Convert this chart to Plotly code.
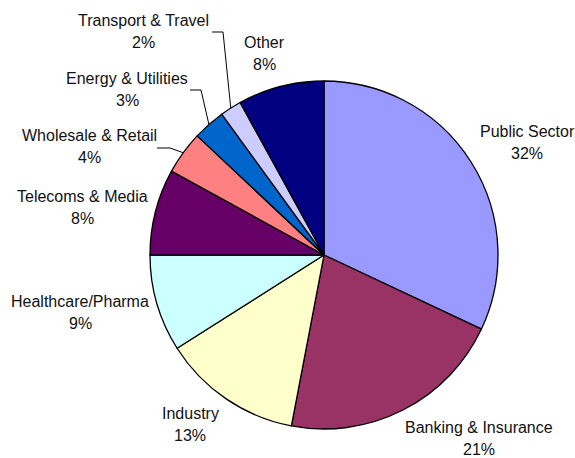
import math
import plotly.graph_objects as go

# Sector breakdown (clockwise from 12 o'clock)
sectors = ["Public Sector", "Banking & Insurance", "Industry", "Healthcare/Pharma",
           "Telecoms & Media", "Wholesale & Retail", "Energy & Utilities",
           "Transport & Travel", "Other"]
shares = [32, 21, 13, 9, 8, 4, 3, 2, 8]
colors = ["#9999FF", "#993366", "#FFFFCC", "#CCFFFF", "#660066",
          "#FF8080", "#0066CC", "#CCCCFF", "#000080"]

W, H = 575, 458
CX, CY, R = 324, 255, 174  # pie centre and radius in pixels

# Label centres (pixels) for name line; percentage sits one line below
label_pos = {
    "Public Sector": (527, 131),
    "Banking & Insurance": (479, 427),
    "Industry": (190, 413),
    "Healthcare/Pharma": (80, 301),
    "Telecoms & Media": (82, 196),
    "Wholesale & Retail": (89, 135),
    "Energy & Utilities": (127, 78),
    "Transport & Travel": (143, 20),
    "Other": (264, 42),
}
# Leader lines: elbow point and end of horizontal run (pixels)
leaders = {
    "Wholesale & Retail": ((170, 148), (157, 148)),
    "Energy & Utilities": ((201, 90), (190, 90)),
    "Transport & Travel": ((223, 32), (212, 32)),
}
LINE_GAP = 22

fig = go.Figure()
fig.add_trace(go.Pie(
    labels=sectors, values=shares, sort=False, direction="clockwise", rotation=0,
    marker=dict(colors=colors, line=dict(color="black", width=1.3)),
    textinfo="none", hoverinfo="label+percent", showlegend=False,
    domain=dict(x=[(CX - R) / W, (CX + R) / W], y=[1 - (CY + R) / H, 1 - (CY - R) / H]),
))

# Invisible pixel-space axes for labels and leader lines
fig.add_trace(go.Scatter(x=[0, W], y=[0, H], mode="markers", marker=dict(opacity=0),
                         hoverinfo="skip", showlegend=False))

total = sum(shares)
cum = 0
font = dict(family="Liberation Sans, Arial, sans-serif", size=16, color="#111111")
for name, v in zip(sectors, shares):
    mid = (cum + v / 2) / total * 2 * math.pi
    cum += v
    pct = f"{round(v / total * 100)}%"
    lx, ly = label_pos[name]
    fig.add_annotation(x=lx, y=ly, text=name, showarrow=False, font=font,
                       xanchor="center", yanchor="middle")
    fig.add_annotation(x=lx, y=ly + LINE_GAP, text=pct, showarrow=False, font=font,
                       xanchor="center", yanchor="middle")
    if name in leaders:
        ex, ey = CX + R * math.sin(mid), CY - R * math.cos(mid)
        (bx, by), (hx, hy) = leaders[name]
        fig.add_shape(type="path", path=f"M {ex},{ey} L {bx},{by} L {hx},{hy}",
                      line=dict(color="black", width=1))

fig.update_layout(
    width=W, height=H, margin=dict(l=0, r=0, t=0, b=0),
    paper_bgcolor="white", plot_bgcolor="rgba(0,0,0,0)",
    xaxis=dict(range=[0, W], visible=False, domain=[0, 1], fixedrange=True),
    yaxis=dict(range=[H, 0], visible=False, domain=[0, 1], fixedrange=True),
)

fig.write_html("out.html")
